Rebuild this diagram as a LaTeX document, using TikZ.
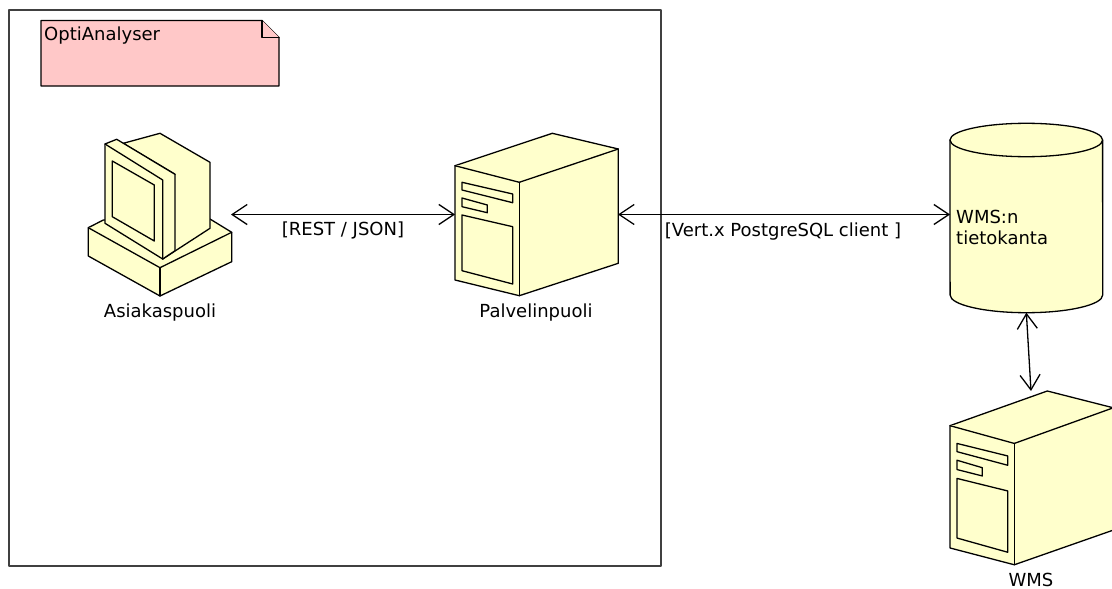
\documentclass[tikz,border=0pt]{standalone}
\usepackage{fontspec}
\setmainfont{DejaVu Sans}
\usetikzlibrary{arrows.meta}
\definecolor{boxyellow}{HTML}{FFFFCC}
\definecolor{notepink}{HTML}{FFC8C8}
\tikzset{
	part/.style={draw=black, fill=boxyellow, line width=1.3pt},
	anchorbox/.style={inner sep=0pt, outer sep=0pt, anchor=north west},
	caption/.style={inner sep=0pt, font=\fontsize{18}{21.5}\selectfont},
	serverbox/.pic={
		\draw[part] (0,32.4)--(97.3,0)--(163.3,15.7)--(163.3,130)--(64.3,162.4)--(0,146.7)--cycle;
		\draw[part] (0,32.4)--(64.3,49)--(163.3,15.7);
		\draw[part] (64.3,49)--(64.3,162.4);
		\draw[part] (7,49)--(57.7,60.7)--(57.7,69.4)--(7,56.7)--cycle;
		\draw[part] (7,64.7)--(32.3,71.7)--(32.3,79.4)--(7,73.4)--cycle;
		\draw[part] (7,81.7)--(57.7,93.4)--(57.7,150.7)--(7,137.4)--cycle;
	}
}
\begin{document}
\begin{tikzpicture}[x=1pt, y=-1pt, line join=round, line cap=round, >={Straight Barb[length=15pt, width=20pt, line width=1.3pt]}]
	\useasboundingbox (0,0) rectangle (1112,589);
	\fill[white] (0,0) rectangle (1112,589);
	\draw[line width=1.2pt, draw=black!75] (9,10) rectangle (661,566);
	\draw[part, fill=notepink] (41,20.5)--(262,20.5)--(279,37.5)--(279,86)--(41,86)--cycle;
	\draw[part, fill=notepink] (262,20.5)--(262,37.5)--(279,37.5);
	\node[caption, anchor=west] (note) at (44,36) {OptiAnalyser};
	% computer
	\draw[part] (103.3,220)--(88.3,227.7)--(88.3,256)--(160,296)--(231.7,261.7)--(231.7,232.3)--(210,219)--cycle;
	\draw[part] (88.3,227.7)--(160,267.7)--(231.7,232.3);
	\draw[part] (160,267.7)--(160,296);
	\draw[part] (123.3,143.3)--(160,133.3)--(210,162.3)--(210,228.3)--(162.7,259)--(162.7,180)--(175,174.3)--cycle;
	\draw[part] (105,144)--(116.7,139.3)--(175,174.3)--(175,250.7)--(162.7,259)--(105,223.3)--cycle;
	\draw[part] (105,144)--(162.7,180)--(162.7,259);
	\draw[part] (112.3,161)--(154.3,185)--(154.3,241)--(112.3,216.7)--cycle;
	\node[anchorbox, minimum width=143pt, minimum height=163pt] (client) at (88,133) {};
	\node[caption] (clientlabel) at (160,312.5) {Asiakaspuoli};
	% server
	\pic at (455,133.3) {serverbox};
	\node[anchorbox, minimum width=163pt, minimum height=163pt] (server) at (455,133) {};
	\node[caption] (serverlabel) at (536,312.5) {Palvelinpuoli};
	% database
	\draw[part] (950,140) arc[start angle=180, end angle=0, x radius=76.3, y radius=-16.7]--(1102.7,295) arc[start angle=0, end angle=180, x radius=76.3, y radius=17.7]--cycle;
	\draw[part] (950,140) arc[start angle=180, end angle=0, x radius=76.3, y radius=16.7];
	\node[anchorbox, minimum width=152.7pt, minimum height=189.7pt] (db) at (950,123) {};
	\node[caption, anchor=west, align=left] (dblabel) at (956,227.5) {WMS:n\\tietokanta};
	% wms
	\pic[yscale=1.07] at (950,391) {serverbox};
	\node[anchorbox, minimum width=162pt, minimum height=175pt] (wms) at (950,391) {};
	\node[caption] (wmslabel) at (1031,579.5) {WMS};
	% connectors
	\draw[<->, line width=1.3pt] (client.east)--(server.west);
	\draw[<->, line width=1.3pt] (server.east)--(server.east -| db.west);
	\draw[<->, line width=1.3pt] (db.south)--(wms.north);
	\node[caption] (restlabel) at (343,230.5) {[REST / JSON]};
	\node[caption] (sqllabel) at (783,231.5) {[Vert.x PostgreSQL client ]};
\end{tikzpicture}
\end{document}
